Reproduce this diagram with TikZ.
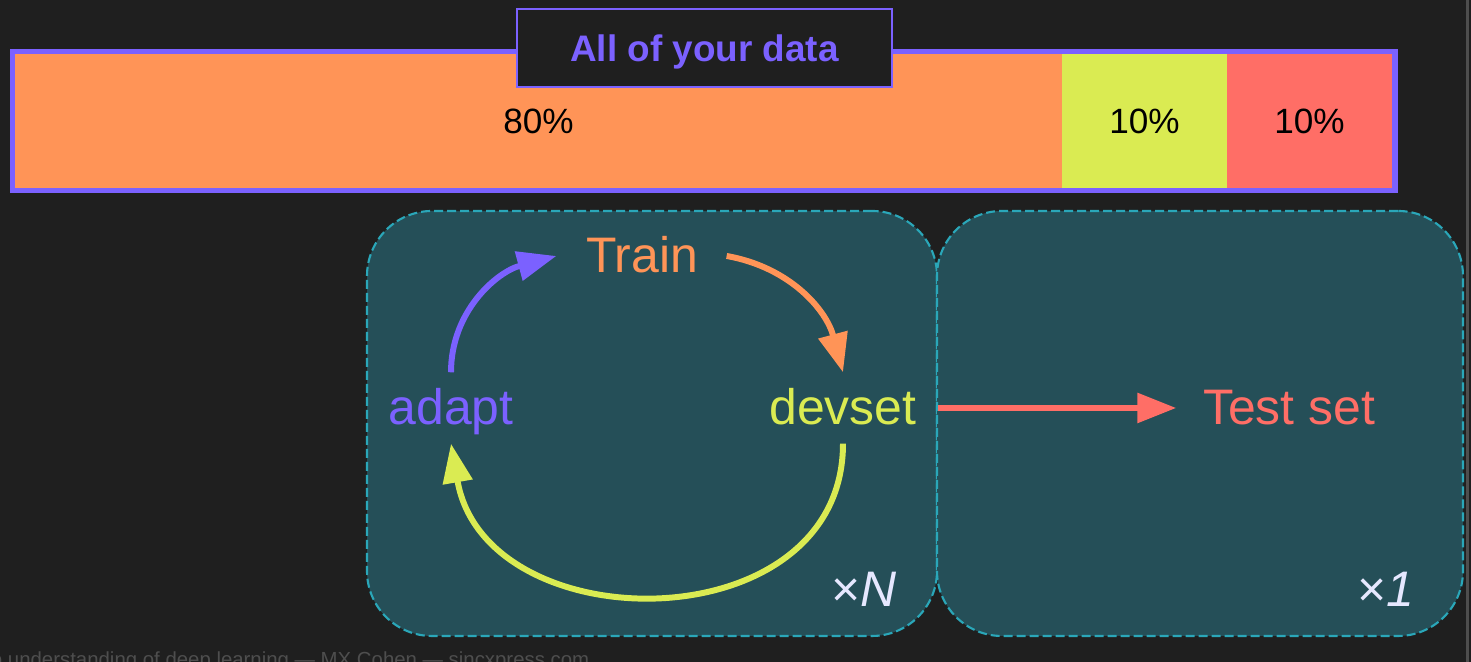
\documentclass[tikz,border=0pt]{standalone}
\usepackage{fontspec}
\setmainfont{Liberation Sans}
\usepackage{tikz}
\usetikzlibrary{arrows.meta}
\usepackage{xcolor}

\definecolor{bgdark}{HTML}{1F1F1F}
\definecolor{barpurple}{HTML}{7B61FF}
\definecolor{barorange}{HTML}{FF9457}
\definecolor{barlime}{HTML}{DAEB52}
\definecolor{barred}{HTML}{FF6E66}
\definecolor{panelfill}{HTML}{254F58}
\definecolor{paneledge}{HTML}{2AA7B9}
\definecolor{countwhite}{HTML}{E6E8FF}
\definecolor{footgray}{HTML}{4E4E4E}

\begin{document}
\begin{tikzpicture}[
    seg/.style={inner sep=0pt, minimum height=1.34cm, text=black, font=\fontsize{10}{12}\selectfont},
    panel/.style={draw=paneledge, fill=panelfill, line width=0.6pt, dash pattern=on 0.09cm off 0.04cm, rounded corners=0.65cm, minimum height=4.25cm},
    lbl/.style={font=\fontsize{14.2}{17}\selectfont, text height=0.42cm, text depth=0.08cm, inner sep=0.1cm, anchor=base},
    count/.style={text=countwhite, font=\fontsize{14.2}{17}\selectfont, inner sep=0pt, anchor=base east},
    cyc/.style={line width=1.7pt, -{Triangle[length=0.39cm,width=0.29cm]}}
]
                    \useasboundingbox (0,0) rectangle (14.71,6.62);
                    \clip (0,0) rectangle (14.71,6.62);
                    \fill[bgdark] (0,0) rectangle (14.71,6.62);
                    \draw[footgray, line width=0.03cm] (14.67,0) -- (14.67,6.62);

                    % Data bar
                    \fill[barpurple] (0.10,4.69) rectangle (13.98,6.13);
                    \node[seg, fill=barorange, minimum width=10.47cm] (trainpart) at (5.385,5.41) {80\%};
                    \node[seg, fill=barlime, minimum width=1.65cm] (devpart) at (11.445,5.41) {10\%};
                    \node[seg, fill=barred, minimum width=1.65cm] (testpart) at (13.095,5.41) {10\%};

                    % Title
                    \node[draw=barpurple, fill=bgdark, line width=0.8pt, minimum width=3.75cm, minimum height=0.78cm, text depth=0pt,
                          text=barpurple, font=\bfseries\fontsize{10.5}{12}\selectfont] (title) at (7.045,6.14) {All of your data};

                    % Panels
                    \node[panel, minimum width=5.70cm] (loop) at (6.52,2.385) {};
                    \node[panel, minimum width=5.26cm] (once) at (12.00,2.385) {};

                    % Labels
                    \node[lbl, text=barorange] (train) at (6.42,3.89) {Train};
                    \node[lbl, text=barpurple] (adapt) at (4.51,2.37) {adapt};
                    \node[lbl, text=barlime] (devset) at (8.43,2.37) {devset};
                    \node[lbl, text=barred] (test) at (12.89,2.37) {Test set};

                    % Repeat counts
                    \node[count] (xn) at (8.97,0.55) {×\textit{N}};
                    \node[count] (xone) at (14.15,0.55) {×\textit{1}};

                    % Cycle
                    \draw[cyc, barpurple] (adapt.north) to[out=90, in=195] ([xshift=-0.19cm]train.west);
                    \draw[cyc, barorange] ([xshift=0.18cm]train.east) to[out=-10, in=105] (devset.north);
                    \draw[cyc, barlime] (devset.south) .. controls +(0,-2.0) and +(0.35,-2.0) .. (adapt.south);

                    % Hand over to test set
                    \draw[cyc, barred] (test.west -| loop.east) -- ([xshift=-0.16cm]test.west);

                    % Footer
                    \node[text=footgray, font=\fontsize{5.8}{7}\selectfont, anchor=base east, inner sep=0pt] (footer) at (5.90,-0.05)
                        {A deep understanding of deep learning — MX Cohen — sincxpress.com};
                \end{tikzpicture}
\end{document}
